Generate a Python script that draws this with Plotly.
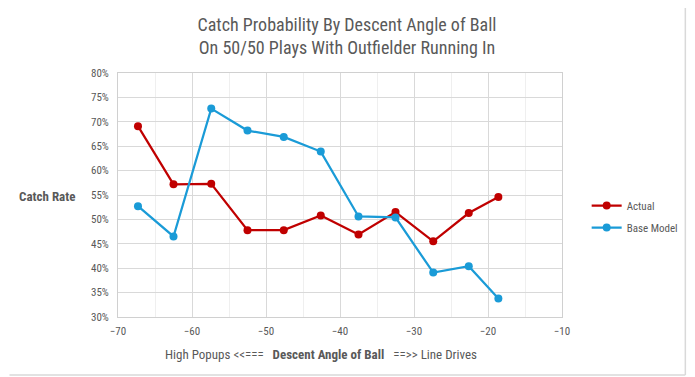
import plotly.graph_objects as go

angles = [-67.3, -62.5, -57.4, -52.5, -47.6, -42.6, -37.5, -32.5, -27.4, -22.6, -18.6]
actual = [0.691, 0.572, 0.573, 0.478, 0.478, 0.508, 0.469, 0.515, 0.455, 0.513, 0.546]
base_model = [0.527, 0.465, 0.727, 0.682, 0.669, 0.639, 0.506, 0.504, 0.391, 0.404, 0.338]

# page has an 8px body margin; work in page pixels and convert
OFF = 8
W, H = 695 - OFF, 377 - OFF
PL, PR, PT, PB = 118, 568, 73, 317  # plot area in page px
L, T = PL - OFF, PT - OFF
PW, PH = PR - PL, PB - PT
R, B = W - L - PW, H - T - PH

FONT = "Liberation Sans Narrow, Roboto Condensed, Roboto, Arial"
GREY = "#595959"

fig = go.Figure()
fig.add_trace(go.Scatter(x=angles, y=actual, name="Actual", mode="lines+markers", legendgroup="a",
                         line=dict(color="#C00000", width=2.25),
                         marker=dict(size=8, color="#C00000")))
fig.add_trace(go.Scatter(x=angles, y=base_model, name="Base Model", mode="lines+markers", legendgroup="b",
                         line=dict(color="#1A9BD7", width=2.25),
                         marker=dict(size=8, color="#1A9BD7")))

def px2x(p):
    return (p - PL) / PW

def px2y(p):
    return (PB - p) / PH

fig.update_layout(
    width=W, height=H,
    margin=dict(l=L, r=R, t=T, b=B, pad=0),
    paper_bgcolor="white", plot_bgcolor="white",
    font=dict(family=FONT, color=GREY, size=11),
    title=dict(text="Catch Probability By Descent Angle of Ball<br>On 50/50 Plays With Outfielder Running In",
               x=(347 - OFF) / W, xref="container", xanchor="center",
               y=1 - (31 - OFF) / H, yref="container", yanchor="middle",
               font=dict(family=FONT, size=18, color=GREY)),
    xaxis=dict(range=[-70, -10], dtick=10, tick0=-70, showgrid=True, gridcolor="#D9D9D9", gridwidth=1,
               minor=dict(dtick=5, tick0=-70, showgrid=True, gridcolor="#EFEFEF", gridwidth=1),
               zeroline=False, showline=True, linecolor="#D0D0D0", linewidth=1, mirror=True,
               ticks="", ticklabelstandoff=4, tickfont=dict(size=11, color=GREY, family=FONT)),
    yaxis=dict(range=[0.30, 0.80], dtick=0.05, tickformat=".0%", showgrid=True, gridcolor="#D9D9D9",
               zeroline=False, showline=True, linecolor="#D0D0D0", linewidth=1, mirror=True,
               ticks="", ticklabelstandoff=6, tickfont=dict(size=11, color=GREY, family=FONT)),
    legend=dict(x=px2x(593), y=px2y(191), xanchor="left", yanchor="top",
                font=dict(size=11, color=GREY, family=FONT), bgcolor="rgba(0,0,0,0)",
                itemwidth=30, tracegroupgap=3, borderwidth=0),
    showlegend=True,
)

fig.add_annotation(text="<b>Catch Rate</b>", xref="paper", yref="paper",
                   x=px2x(76), y=px2y(196), xanchor="right", yanchor="middle",
                   showarrow=False, font=dict(size=13, color=GREY, family=FONT))
fig.add_annotation(text="High Popups <<===   <b>Descent Angle of Ball</b>   ==>> Line Drives",
                   xref="paper", yref="paper", x=px2x(324), y=px2y(354),
                   xanchor="center", yanchor="middle", showarrow=False,
                   font=dict(size=13, color=GREY, family=FONT))

# outer chart border (right and bottom edges are reachable)
fig.add_shape(type="line", xref="paper", yref="paper", x0=px2x(693), x1=px2x(693), y0=px2y(OFF), y1=px2y(375),
              line=dict(color="#D9D9D9", width=1.5))
fig.add_shape(type="line", xref="paper", yref="paper", x0=px2x(OFF), x1=px2x(693), y0=px2y(375), y1=px2y(375),
              line=dict(color="#D9D9D9", width=1.5))

fig.write_html("out.html")
